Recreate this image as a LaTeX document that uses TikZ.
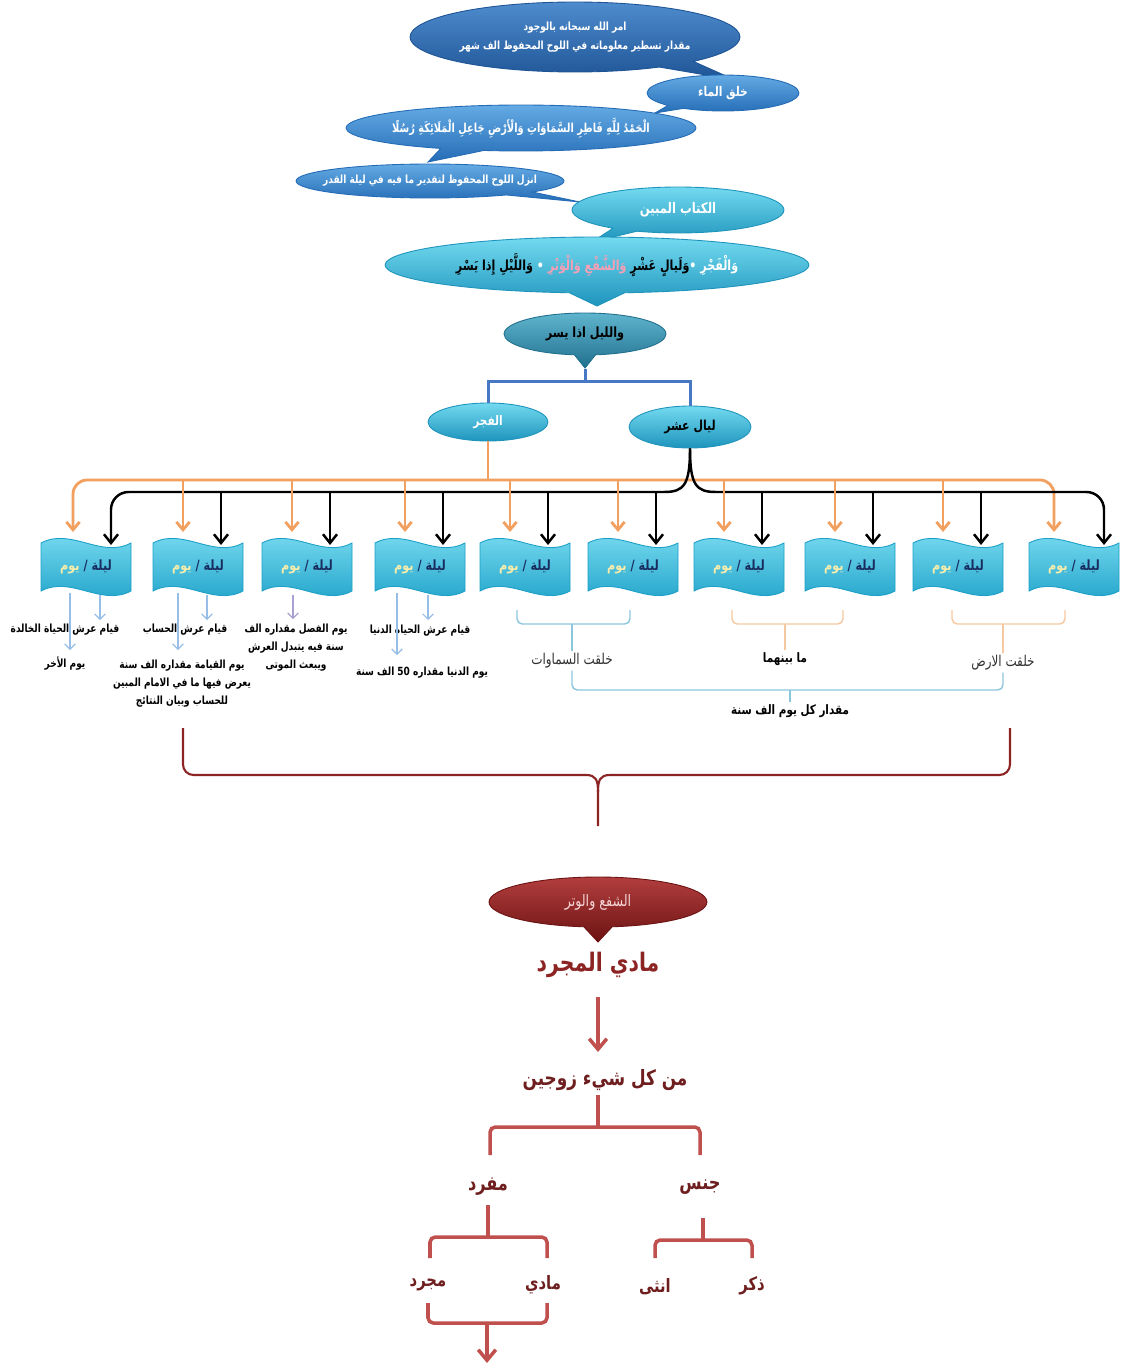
\documentclass[tikz,border=0pt]{standalone}
\usepackage{fontspec}
\usepackage{tikz}
\usetikzlibrary{shapes.geometric,shapes.callouts,arrows.meta,calc}
\newfontfamily\arabicfont[Script=Arabic,FakeStretch=0.8]{DejaVu Sans}
\TeXXeTstate=1
\newcommand{\arb}[1]{\beginR #1\endR}
\definecolor{darktop}{RGB}{78,140,205}
\definecolor{darkbot}{RGB}{30,84,150}
\definecolor{bluetop}{RGB}{100,170,228}
\definecolor{bluebot}{RGB}{36,108,182}
\definecolor{tealtop}{RGB}{115,218,240}
\definecolor{tealbot}{RGB}{30,148,188}
\definecolor{deeptop}{RGB}{95,180,205}
\definecolor{deepbot}{RGB}{32,112,142}
\definecolor{wavetop}{RGB}{125,222,242}
\definecolor{wavebot}{RGB}{28,160,200}
\definecolor{fajrorange}{RGB}{242,160,95}
\definecolor{barblue}{RGB}{70,120,195}
\definecolor{skyline}{RGB}{140,198,220}
\definecolor{peachline}{RGB}{246,200,160}
\definecolor{palesky}{RGB}{150,190,230}
\definecolor{lilac}{RGB}{170,160,210}
\definecolor{shafatop}{RGB}{178,62,62}
\definecolor{shafabot}{RGB}{108,18,18}
\definecolor{shafatext}{RGB}{245,215,215}
\definecolor{maroon}{RGB}{140,36,36}
\definecolor{brownred}{RGB}{110,30,30}
\definecolor{redline}{RGB}{192,80,77}
\definecolor{navytext}{RGB}{25,45,95}
\definecolor{paleyellow}{RGB}{246,236,172}
\definecolor{pinktext}{RGB}{246,160,182}
\definecolor{graytext}{RGB}{50,50,50}

\begin{document}
\begin{tikzpicture}[x=0.02cm,y=-0.02cm,
		bubble/.style={ellipse callout,inner xsep=-1cm,inner ysep=0pt,align=center,line width=0.5pt},
		darkbubble/.style={bubble,top color=darktop,bottom color=darkbot,draw=darkbot,text=white},
		bluebubble/.style={bubble,top color=bluetop,bottom color=bluebot,draw=bluebot,text=white},
		tealbubble/.style={bubble,top color=tealtop,bottom color=tealbot,draw=tealbot},
		deepbubble/.style={bubble,top color=deeptop,bottom color=deepbot,draw=deepbot},
		redbubble/.style={bubble,top color=shafatop,bottom color=shafabot,draw=shafabot,text=shafatext},
		tealoval/.style={ellipse,inner sep=0pt,top color=tealtop,bottom color=tealbot,draw=tealbot,line width=0.5pt},
		wavebox/.style={top color=wavetop,bottom color=wavebot,draw=wavebot,line width=0.5pt},
		wt/.style={inner sep=1pt,font=\arabicfont\bfseries\fontsize{6.4}{10.2}\selectfont},
		lt/.style={inner sep=1pt,text=graytext,font=\arabicfont\fontsize{8.5}{10}\selectfont},
		bluebar/.style={barblue,line width=1.7pt},
		blackline/.style={line width=1.4pt},
		blackarrow/.style={blackline,-{Straight Barb[length=5pt,width=8pt]}},
		orangeline/.style={fajrorange,line width=1.6pt},
		orangearrow/.style={orangeline,-{Straight Barb[length=4.5pt,width=7.5pt]}},
		palearrow/.style={palesky,line width=0.7pt,-{Straight Barb[length=3pt,width=6pt]}},
		lilacarrow/.style={lilac,line width=0.7pt,-{Straight Barb[length=3pt,width=6pt]}},
		skybrack/.style={skyline,line width=0.8pt},
		peachbrack/.style={peachline,line width=0.8pt},
		bracered/.style={maroon,line width=1.2pt},
		redlink/.style={redline,line width=2pt},
		redarrow/.style={redlink,-{Straight Barb[length=6pt,width=10pt]}},
		bigred/.style={inner sep=1pt,text=maroon,font=\arabicfont\bfseries\fontsize{14.5}{17}\selectfont},
		midred/.style={inner sep=1pt,text=brownred,font=\arabicfont\bfseries\fontsize{12}{14}\selectfont},
		smallred/.style={inner sep=1pt,text=brownred,font=\arabicfont\bfseries\fontsize{10.5}{12}\selectfont}]
			\useasboundingbox (0,0) rectangle (1124,1365);
			\fill[white] (0,0) rectangle (1124,1365);
			\node[darkbubble,minimum width=6.6cm,minimum height=1.4cm,callout absolute pointer={(735,80)},font=\arabicfont\bfseries\fontsize{6.4}{11}\selectfont] (amr) at (575,37) {\arb{امر الله سبحانه بالوجود}\\\arb{مقدار تسطير معلوماته في اللوح المحفوظ الف شهر}};
			\node[bluebubble,minimum width=3.04cm,minimum height=0.72cm,callout absolute pointer={(655,113)},font=\arabicfont\bfseries\fontsize{7.6}{9}\selectfont] (maa) at (723,93) {\arb{خلق الماء}};
			\node[bluebubble,minimum width=7cm,minimum height=0.92cm,callout absolute pointer={(428,162)},font=\arabicfont\bfseries\fontsize{7}{9}\selectfont] (hamd) at (521,128) {\arb{الْحَمْدُ لِلَّهِ فَاطِرِ السَّمَاوَاتِ وَالْأَرْضِ جَاعِلِ الْمَلَائِكَةِ رُسُلًا}};
			\node[bluebubble,minimum width=5.36cm,minimum height=0.68cm,callout absolute pointer={(580,202)},font=\arabicfont\bfseries\fontsize{6.4}{8}\selectfont] (inzal) at (430,181) {\arb{انزل اللوح المحفوظ لتقدير ما فيه في ليلة القدر}};
			\node[tealbubble,text=white,minimum width=4.24cm,minimum height=0.92cm,callout absolute pointer={(592,242)},font=\arabicfont\bfseries\fontsize{8.3}{10}\selectfont] (kitab) at (678,210) {\arb{الكتاب المبين}};
			\node[tealbubble,minimum width=8.48cm,minimum height=1.12cm,callout absolute pointer={(597,306)},font=\arabicfont\bfseries\fontsize{7.9}{10}\selectfont] (ayat) at (597,265) {{\color{black}\beginR وَاللَّيْلِ إِذا يَسْرِ\endR} {\color{white}•} {\color{pinktext}\beginR وَالشَّفْعِ وَالْوَتْرِ\endR} {\color{black}\beginR وَلَيالٍ عَشْرٍ\endR}{\color{white}•} {\color{white}\beginR وَالْفَجْرِ\endR}};
			\node[deepbubble,minimum width=3.24cm,minimum height=0.84cm,callout absolute pointer={(585,368)},font=\arabicfont\bfseries\fontsize{8}{9}\selectfont] (layl) at (585,334) {\arb{والليل اذا يسر}};
			\node[tealoval,minimum width=2.4cm,minimum height=0.76cm,text=white,font=\arabicfont\bfseries\fontsize{7.5}{9}\selectfont] (fajr) at (488,422) {\arb{الفجر}};
			\node[tealoval,minimum width=2.44cm,minimum height=0.84cm,font=\arabicfont\bfseries\fontsize{7.8}{10}\selectfont] (lail) at (690,427) {\arb{ليال عشر}};
			\draw[bluebar] (layl.pointer) -- ++(0,13) coordinate (lb);
			\draw[bluebar] (fajr.north) |- (lb) -| (lail.north);
			\foreach \c [count=\i] in {86,198,307,420,525,633,739,850,958,1074} {
				\shade[wavebox,shift={(\c,567)}] (-45,-24) .. controls (-15,-40) and (15,-8) .. (45,-24) -- (45,24) .. controls (15,40) and (-15,8) .. (-45,24) -- cycle;
				\node[font=\arabicfont\bfseries\fontsize{8}{10}\selectfont] (fl\i) at (\c,567) {{\color{paleyellow}\beginR يوم\endR} {\color{navytext}\beginR ليلة /\endR}};
			}
			\draw[orangeline] (fajr.south) -- (488,480) coordinate (ob);
			\draw[orangearrow,rounded corners=8pt] (ob) -- (73,480) -- ($(fl1)+(-13,-35)$);
			\draw[orangearrow,rounded corners=8pt] (ob) -- (1054,480) -- ($(fl10)+(-20,-35)$);
			\draw[blackline] (lail.south) .. controls (690,485) and (684,492) .. (664,492) coordinate (bl);
			\draw[blackline] (lail.south) .. controls (690,485) and (696,492) .. (716,492) coordinate (br);
			\draw[blackarrow,rounded corners=10pt] (bl) -- (111,492) -- ($(fl1)+(25,-22)$);
			\draw[blackarrow,rounded corners=10pt] (br) -- (1104,492) -- ($(fl10)+(30,-22)$);
			\foreach \i in {2,...,9} {
				\draw[orangearrow] ($(fl\i)+(-15,-87)$) -- ($(fl\i)+(-15,-35)$);
				\draw[blackarrow] ($(fl\i)+(23,-75)$) -- ($(fl\i)+(23,-22)$);
			}
			\node[wt] (khalida) at (65,630) {\arb{قيام عرش الحياة الخالدة}};
			\node[wt] (akhir) at (65,664) {\arb{يوم الأخر}};
			\node[wt] (hisab) at (185,630) {\arb{قيام عرش الحساب}};
			\node[wt,align=center] (qiyama) at (182,684) {\arb{يوم القيامة مقداره الف سنة}\\\arb{يعرض فيها ما في الامام المبين}\\\arb{للحساب وبيان النتائج}};
			\node[wt,align=center] (fasl) at (296,648) {\arb{يوم الفصل مقداره الف}\\\arb{سنة فيه يتبدل العرش}\\\arb{ويبعث الموتى}};
			\node[wt] (hayat) at (420,631) {\arb{قيام عرش الحياة الدنيا}};
			\node[wt] (dunya) at (422,673) {\arb{يوم الدنيا مقداره 50 الف سنة}};
			\draw[palearrow] ($(fl1)+(-16,26)$) -- ++(0,57);
			\draw[palearrow] ($(fl1)+(14,28)$) -- ++(0,25);
			\draw[palearrow] ($(fl2)+(-20,26)$) -- ++(0,57);
			\draw[palearrow] ($(fl2)+(9,28)$) -- ++(0,25);
			\draw[lilacarrow] ($(fl3)+(-14,28)$) -- ++(0,24);
			\draw[palearrow] ($(fl4)+(-23,26)$) -- ++(0,62);
			\draw[palearrow] ($(fl4)+(8,28)$) -- ++(0,25);
			\node[lt] (samawat) at (572,661) {\arb{خلقت السماوات}};
			\node[wt,font=\arabicfont\bfseries\fontsize{7.4}{9}\selectfont] (baynahuma) at (785,659) {\arb{ما بينهما}};
			\node[lt] (ard) at (1003,663) {\arb{خلقت الارض}};
			\node[wt,font=\arabicfont\bfseries\fontsize{7.4}{9}\selectfont] (miqdar) at (790,711) {\arb{مقدار كل يوم الف سنة}};
			\draw[skybrack,rounded corners=3pt] ($(fl5)+(-8,43)$) |- ($(fl6)+(-3,57)$) -- ($(fl6)+(-3,43)$);
			\draw[skybrack] (samawat.north) -- (samawat.north |- 0,624);
			\draw[peachbrack,rounded corners=3pt] ($(fl7)+(-7,43)$) |- ($(fl8)+(-7,57)$) -- ($(fl8)+(-7,43)$);
			\draw[peachbrack] (baynahuma.north) -- (baynahuma.north |- 0,624);
			\draw[peachbrack,rounded corners=3pt] ($(fl9)+(-6,43)$) |- ($(fl10)+(-9,57)$) -- ($(fl10)+(-9,43)$);
			\draw[peachbrack] (ard.north) -- (ard.north |- 0,624);
			\draw[skybrack,rounded corners=3pt] (samawat.south) |- (miqdar.north |- 0,690) -| (ard.south);
			\draw[skybrack] (miqdar.north |- 0,690) -- (miqdar.north);
			\coordinate (rl) at (183,728);
			\coordinate (rr) at (1010,728);
			\draw[bracered,rounded corners=6pt] (rl) -- (183,775) -- (586,775);
			\draw[bracered] (586,775) .. controls (596,775) and (598,780) .. (598,792) -- (598,826);
			\draw[bracered] (610,775) .. controls (600,775) and (598,780) .. (598,792);
			\draw[bracered,rounded corners=6pt] (610,775) -- (1010,775) -- (rr);
			\node[redbubble,minimum width=4.36cm,minimum height=1cm,callout absolute pointer={(598,942)},font=\arabicfont\fontsize{9}{10}\selectfont] (shafa) at (598,902) {\arb{الشفع والوتر}};
			\node[bigred] (madial) at (598,965) {\arb{مادي المجرد}};
			\node[midred] (zawj) at (605,1080) {\arb{من كل شيء زوجين}};
			\draw[redarrow] ($(madial)+(0,32)$) -- ($(madial)+(0,87)$);
			\node[midred,font=\arabicfont\bfseries\fontsize{11.5}{14}\selectfont] (mufrad) at (488,1187) {\arb{مفرد}};
			\node[midred,font=\arabicfont\bfseries\fontsize{11.5}{14}\selectfont] (jins) at (700,1187) {\arb{جنس}};
			\node[smallred] (mujarrad) at (428,1285) {\arb{مجرد}};
			\node[smallred] (madi) at (543,1285) {\arb{مادي}};
			\node[smallred] (untha) at (655,1287) {\arb{انثى}};
			\node[smallred] (dhakar) at (752,1286) {\arb{ذكر}};
			\draw[redlink] ($(zawj)+(-7,15)$) -- ++(0,32) coordinate (zj);
			\draw[redlink,rounded corners=3pt] ($(mufrad)+(2,-32)$) |- (zj) -| ($(jins)+(0,-32)$);
			\draw[redlink] ($(mufrad)+(0,18)$) -- ++(0,32) coordinate (mj);
			\draw[redlink,rounded corners=3pt] ($(mujarrad)+(2,-27)$) |- (mj) -| ($(madi)+(4,-27)$);
			\draw[redlink] ($(jins)+(3,31)$) -- ++(0,22) coordinate (jj);
			\draw[redlink,rounded corners=3pt] ($(untha)+(0,-29)$) |- (jj) -| ($(dhakar)+(0,-28)$);
			\coordinate (mm) at (487,1323);
			\draw[redlink,rounded corners=3pt] ($(mujarrad)+(0,18)$) |- (mm) -| ($(madi)+(4,18)$);
			\draw[redarrow] (mm) -- ++(0,40);
		\end{tikzpicture}
\end{document}
